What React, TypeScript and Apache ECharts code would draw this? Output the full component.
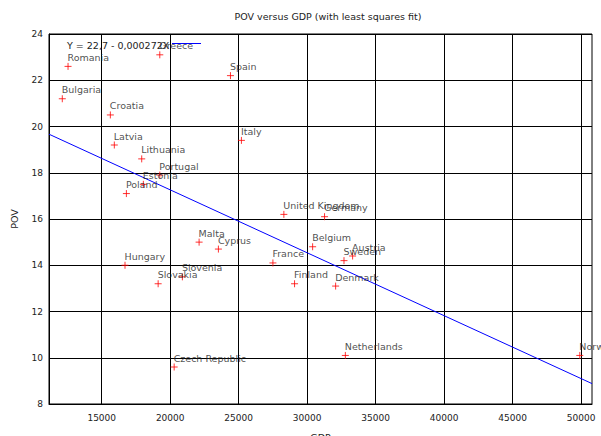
import React, { useEffect, useRef } from "react";
import * as echarts from "echarts";

// Country names with GDP per capita and poverty rate (POV)
const countries = [
  "Romania", "Greece", "Spain", "Bulgaria", "Croatia", "Latvia", "Italy",
  "Lithuania", "Portugal", "Estonia", "Poland", "United Kingdom", "Germany",
  "Malta", "Cyprus", "France", "Hungary", "Slovenia", "Slovakia", "Finland",
  "Belgium", "Austria", "Sweden", "Denmark", "Czech Republic", "Netherlands", "Norway",
];
const gdp = [
  12540, 19240, 24400, 12120, 15630, 15920, 25200,
  17920, 19240, 18040, 16800, 28300, 31270,
  22110, 23520, 27500, 16700, 20890, 19120, 29080,
  30400, 33320, 32690, 32080, 20290, 32790, 49910,
];
const pov = [
  22.6, 23.1, 22.2, 21.2, 20.5, 19.2, 19.4,
  18.6, 17.9, 17.5, 17.1, 16.2, 16.1,
  15.0, 14.7, 14.1, 14.0, 13.5, 13.2, 13.2,
  14.8, 14.4, 14.2, 13.1, 9.6, 10.1, 10.1,
];

// Least squares fit: Y = 22,7 - 0,000272X
const fitIntercept = 22.7;
const fitSlope = -0.000272;
const fitLabel = "Y = 22,7 - 0,000272X";

const xRange = [11150, 50800];
const xTicks = [15000, 20000, 25000, 30000, 35000, 40000, 45000, 50000];
const yRange = [8, 24];
const yStep = 2;

const FONT = "DejaVu Sans";
const TEXT = "#222";

export default function App() {
  const ref = useRef<HTMLDivElement>(null);

  useEffect(() => {
    if (!ref.current) return;
    const chart = echarts.init(ref.current, undefined, { renderer: "svg" });

    const points = countries.map((name, i) => ({ name, value: [gdp[i], pov[i]] }));
    const fitLine = xRange.map((x) => [x, fitIntercept + fitSlope * x]);

    chart.setOption({
      animation: false,
      backgroundColor: "#fff",
      textStyle: { fontFamily: FONT },
      title: {
        text: "POV versus GDP (with least squares fit)",
        left: 323,
        top: 6,
        textAlign: "center",
        textStyle: { fontFamily: FONT, fontSize: 9.5, fontWeight: "normal", color: TEXT },
      },
      grid: {
        left: 49,
        right: 9,
        top: 34,
        bottom: 32,
        containLabel: false,
        outerBoundsMode: "none",
        show: true,
        borderColor: "#000",
        borderWidth: 1,
      },
      xAxis: {
        type: "value",
        min: xRange[0],
        max: xRange[1],
        name: "GDP",
        nameLocation: "middle",
        nameGap: 28,
        nameTextStyle: { fontFamily: FONT, fontSize: 9.5, color: TEXT },
        axisLine: { show: true, lineStyle: { color: "#000", width: 1 } },
        axisTick: { show: true, inside: true, length: 4, customValues: xTicks, lineStyle: { color: "#000" } },
        axisLabel: {
          customValues: xTicks,
          formatter: (v: number) => String(v),
          fontFamily: FONT,
          fontSize: 9,
          color: TEXT,
          margin: 9,
        },
        splitLine: { show: true, lineStyle: { color: "#000", width: 1 } },
      },
      yAxis: {
        type: "value",
        min: yRange[0],
        max: yRange[1],
        interval: yStep,
        name: "POV",
        nameLocation: "middle",
        nameGap: 30,
        nameTextStyle: { fontFamily: FONT, fontSize: 9.5, color: TEXT },
        axisLine: { show: true, lineStyle: { color: "#000", width: 1 } },
        axisTick: { show: true, inside: true, length: 4, lineStyle: { color: "#000" } },
        axisLabel: { fontFamily: FONT, fontSize: 9, color: TEXT, margin: 6 },
        splitLine: { show: true, lineStyle: { color: "#000", width: 1 } },
      },
      series: [
        {
          type: "line",
          name: fitLabel,
          data: fitLine,
          showSymbol: false,
          symbol: "none",
          lineStyle: { color: "#0000ff", width: 1 },
          z: 3,
        },
        {
          type: "scatter",
          name: "POV",
          data: points,
          symbol: "path://M4,0 L4,8 M0,4 L8,4",
          symbolSize: 7,
          itemStyle: { color: "transparent", borderColor: "#ff0000", borderWidth: 1 },
          label: {
            show: true,
            formatter: "{b}",
            position: [3.5, -5],
            align: "left",
            verticalAlign: "middle",
            fontFamily: FONT,
            fontSize: 9.5,
            color: TEXT,
          },
          z: 4,
        },
      ],
      graphic: [
        {
          type: "text",
          left: 67,
          top: 40,
          z: 10,
          style: { text: fitLabel, font: `9.5px '${FONT}'`, fill: TEXT },
        },
        {
          type: "line",
          z: 10,
          shape: { x1: 172, y1: 43.5, x2: 201, y2: 43.5 },
          style: { stroke: "#0000ff", lineWidth: 1 },
        },
      ],
    });

    return () => chart.dispose();
  }, []);

  return (
    <div
      ref={ref}
      style={{ position: "absolute", left: 0, top: 0, width: 601, height: 436, background: "#fff" }}
    />
  );
}
